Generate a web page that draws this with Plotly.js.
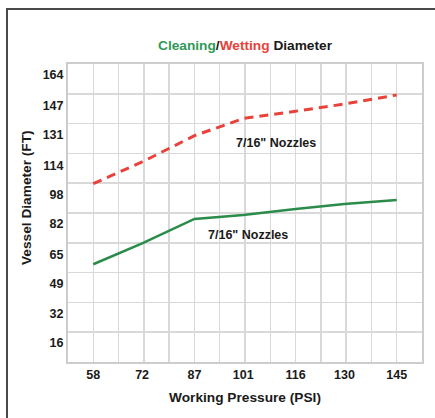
<!DOCTYPE html>
<html>
<head>
<meta charset="utf-8">
<script src="https://cdn.plot.ly/plotly-3.0.1.min.js"></script>
<style>
  html, body { margin: 0; padding: 0; background: #fff; }
  #wrap { position: relative; width: 435px; height: 418px; overflow: hidden; }
  #chart { position: absolute; left: 0; top: 0; width: 435px; height: 418px; }
  #frame { position: absolute; left: 6px; top: 8px; width: 460px; height: 440px;
           border-left: 2px solid #4a4a4a; border-top: 2px solid #4a4a4a; pointer-events: none; }
</style>
</head>
<body>
<div id="wrap">
  <div id="chart"></div>
  <div id="frame"></div>
</div>
<script>
// Working pressure (PSI) categories / tick labels
const pressure = [58, 72, 87, 101, 116, 130, 145];
// Vessel diameter tick labels (FT)
const diameterTicks = [16, 32, 49, 65, 82, 98, 114, 131, 147, 164];
// Wetting diameter (red dashed), FT
const wetting = [104, 116, 130.5, 140, 144, 148, 153];
// Cleaning diameter (green solid), FT
const cleaning = [59.5, 71, 84.5, 86.7, 90, 92.8, 95];

const font = "'Liberation Sans', Arial, Helvetica, sans-serif";

const traces = [
  {
    x: pressure, y: wetting, type: 'scatter', mode: 'lines',
    line: { color: '#e8423b', width: 3, dash: '9px,6px' },
    hoverinfo: 'skip', showlegend: false
  },
  {
    x: pressure, y: cleaning, type: 'scatter', mode: 'lines',
    line: { color: '#2b8c4a', width: 2.5 },
    hoverinfo: 'skip', showlegend: false
  }
];

const gridColor = '#d9d9d9';
const tickFont = { family: font, size: 12.5, weight: 700, color: '#1a1a1a' };
const titleFont = { family: font, size: 13.7, weight: 700, color: '#1a1a1a' };

const layout = {
  width: 435, height: 418,
  margin: { l: 68, r: 13, t: 64, b: 56 },
  paper_bgcolor: '#fff', plot_bgcolor: '#fff',
  font: { family: font, color: '#1a1a1a' },
  showlegend: false,
  title: {
    text: '<span style="color:#2f9a57">Cleaning</span>/<span style="color:#e8423b">Wetting</span> Diameter',
    font: titleFont,
    x: 245 / 435, xref: 'container', xanchor: 'center',
    y: 1 - 45 / 418, yref: 'container', yanchor: 'middle'
  },
  xaxis: {
    range: [50.75, 152.25],
    tickmode: 'array', tickvals: pressure, ticktext: pressure.map(String),
    tickfont: tickFont,
    showgrid: false, zeroline: false,
    showline: true, mirror: true, linecolor: '#cdcdcd', linewidth: 2,
    ticks: '',
    minor: { tickmode: 'linear', tick0: 50.75, dtick: 7.25, showgrid: true, gridcolor: gridColor, gridwidth: 1.5 },
    title: { text: 'Working Pressure (PSI)', font: titleFont, standoff: 11 },
    fixedrange: true
  },
  yaxis: {
    range: [5.5, 170.1],
    tickmode: 'array', tickvals: diameterTicks, ticktext: diameterTicks.map(String),
    tickfont: tickFont,
    showgrid: false, zeroline: false,
    showline: true, mirror: true, linecolor: '#cdcdcd', linewidth: 2,
    ticks: '',
    minor: { tickmode: 'linear', tick0: 5.5, dtick: 16.46, showgrid: true, gridcolor: gridColor, gridwidth: 1.5 },
    fixedrange: true
  },
  annotations: [
    { x: -42 / 354, y: (362 - 198) / 298, xref: 'paper', yref: 'paper', text: 'Vessel Diameter (FT)',
      textangle: -90, showarrow: false, xanchor: 'center', yanchor: 'middle', font: titleFont },
    { x: 110.4, y: 126.3, xref: 'x', yref: 'y', text: '7/16" Nozzles', showarrow: false,
      font: tickFont },
    { x: 102.4, y: 75.6, xref: 'x', yref: 'y', text: '7/16" Nozzles', showarrow: false,
      font: tickFont }
  ]
};

Plotly.newPlot('chart', traces, layout, { staticPlot: true, displayModeBar: false });
</script>
</body>
</html>
